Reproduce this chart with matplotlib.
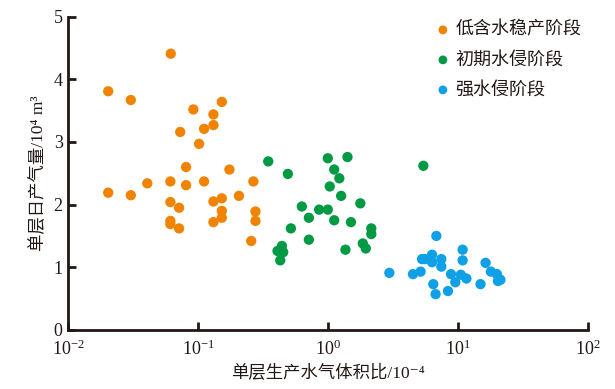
import matplotlib
matplotlib.use('Agg')
import matplotlib.pyplot as plt
from matplotlib.ticker import LogLocator, FixedLocator, NullLocator

plt.rcParams['font.family'] = ['Liberation Serif', 'Noto Sans CJK SC', 'DejaVu Serif']
plt.rcParams['mathtext.fontset'] = 'stix'

# 低含水稳产阶段
low_x = [0.0615, 0.0203, 0.0303, 0.0918, 0.152, 0.131, 0.131, 0.111, 0.0727, 0.1016,
         0.0807, 0.0406, 0.0611, 0.0807, 0.111, 0.0203, 0.0303, 0.0611, 0.0713, 0.0611,
         0.0611, 0.0713, 0.174, 0.266, 0.131, 0.152, 0.206, 0.152, 0.152, 0.131,
         0.276, 0.276, 0.256]
low_y = [4.41, 3.81, 3.67, 3.52, 3.64, 3.44, 3.27, 3.21, 3.16, 2.97,
         2.60, 2.34, 2.37, 2.31, 2.37, 2.19, 2.15, 2.04, 1.95, 1.74,
         1.69, 1.62, 2.56, 2.37, 2.05, 2.10, 2.14, 1.90, 1.79, 1.72,
         1.89, 1.74, 1.42]

# 初期水侵阶段
early_x = [0.346, 0.490, 0.995, 1.41, 1.114, 1.22, 1.03, 1.26, 1.77, 0.628,
           0.853, 0.995, 0.711, 1.114, 1.50, 2.15, 2.15, 0.517, 0.711, 1.85,
           1.95, 1.36, 0.441, 0.408, 0.451, 0.428, 5.41]
early_y = [2.69, 2.49, 2.74, 2.76, 2.56, 2.42, 2.29, 2.14, 2.02, 1.97,
           1.92, 1.92, 1.79, 1.75, 1.72, 1.62, 1.53, 1.62, 1.44, 1.38,
           1.30, 1.28, 1.34, 1.26, 1.24, 1.11, 2.62]

# 强水侵阶段
strong_x = [6.81, 2.96, 4.50, 5.15, 5.28, 5.55, 6.31, 6.31, 7.44, 7.44,
            10.85, 10.85, 8.83, 10.5, 11.6, 9.53, 6.45, 6.72, 8.37, 14.9,
            16.3, 17.9, 19.9, 20.3, 21.2]
strong_y = [1.50, 0.91, 0.89, 0.93, 1.13, 1.13, 1.20, 1.08, 1.13, 1.01,
            1.28, 1.11, 0.89, 0.88, 0.82, 0.76, 0.73, 0.57, 0.62, 0.73,
            1.07, 0.93, 0.89, 0.78, 0.80]

stages = ['低含水稳产阶段', '初期水侵阶段', '强水侵阶段']
colors = ['#F08300', '#009A44', '#0FA0E6']

text_color = '#231815'

fig = plt.figure(figsize=(6.15, 3.89), dpi=100)
ax = fig.add_axes([0.111, 0.152, 0.845, 0.805])

for xs, ys, label, c in zip([low_x, early_x, strong_x], [low_y, early_y, strong_y], stages, colors):
    ax.scatter(xs, ys, s=55, c=c, edgecolors='none', label=label, zorder=3)

ax.set_xscale('log')
ax.set_xlim(1e-2, 1e2)
ax.set_ylim(0, 5)
ax.xaxis.set_major_locator(LogLocator(base=10, numticks=10))
ax.xaxis.set_minor_locator(NullLocator())
ax.yaxis.set_major_locator(FixedLocator([0, 1, 2, 3, 4, 5]))

for side in ['top', 'right']:
    ax.spines[side].set_visible(False)
for side in ['left', 'bottom']:
    ax.spines[side].set_linewidth(2.0)
    ax.spines[side].set_color(text_color)

ax.tick_params(axis='both', direction='in', length=6, width=2.0, colors=text_color,
               labelsize=13, labelcolor=text_color)
ax.tick_params(axis='x', pad=7)
ax.tick_params(axis='y', pad=4)

ax.set_xlabel('单层生产水气体积比/10⁻⁴', fontsize=12.5, color=text_color, labelpad=4)
ax.set_ylabel('单层日产气量/10⁴ m³', fontsize=12.5, color=text_color, labelpad=5)

leg = ax.legend(loc='upper left', bbox_to_anchor=(0.707, 0.985), frameon=False,
                fontsize=13, handlelength=0.8, handletextpad=0.3, labelspacing=0.72,
                markerscale=0.85, borderaxespad=0, borderpad=0)
for t in leg.get_texts():
    t.set_color(text_color)

fig.savefig('out.png', dpi=100)
